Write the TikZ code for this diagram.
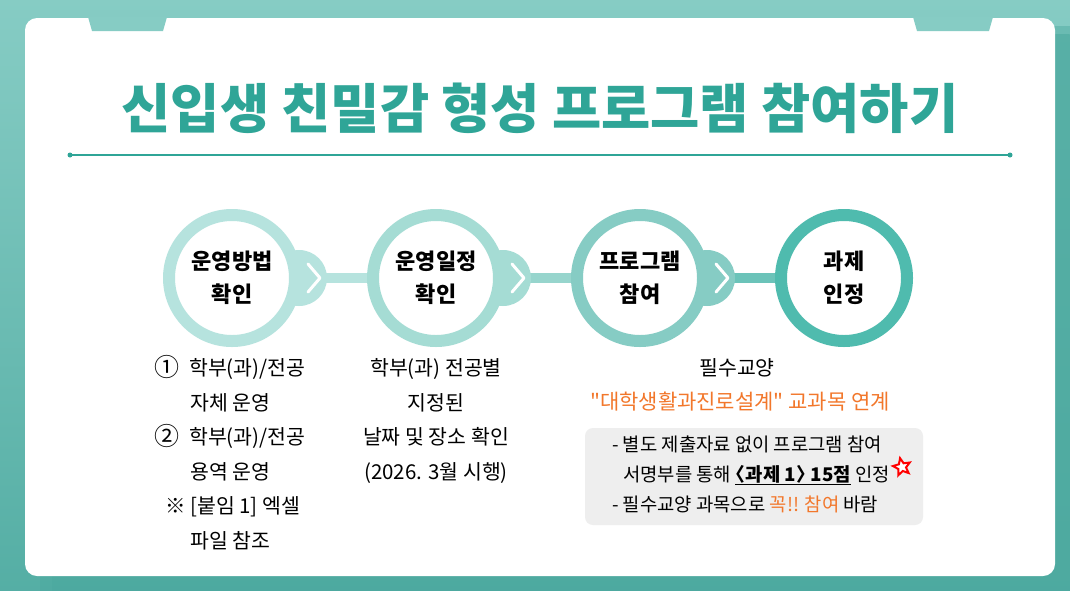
\documentclass[tikz,border=0pt]{standalone}
\usepackage{fontspec}
\setmainfont{Noto Sans CJK KR}
\newfontfamily\krplain{Noto Sans CJK KR}
\usetikzlibrary{calc,shapes.geometric}
\definecolor{tealbg}{HTML}{86CCC4}
\definecolor{tealdark}{HTML}{4CA99F}
\definecolor{titleteal}{HTML}{2FA597}
\definecolor{ringa}{HTML}{B6E3DE}
\definecolor{ringb}{HTML}{A5DCD4}
\definecolor{ringc}{HTML}{86CCC4}
\definecolor{ringd}{HTML}{4FBBAE}
\definecolor{orangetxt}{HTML}{F2772B}
\definecolor{notegray}{HTML}{EEEEEE}
\newcommand{\bignum}[1]{\makebox[35pt][l]{\fontsize{25}{20}\selectfont\raisebox{-1pt}{#1}}}
\newcommand{\dq}{{\krplain"}}
\tikzset{
  ring/.style={circle,draw=#1,line width=12pt,fill=white,minimum size=126pt,inner sep=0pt,
    align=center,font=\fontsize{22}{33}\selectfont\bfseries},
  bump/.style={circle,fill=#1,minimum size=56pt,inner sep=0pt},
  chev/.style={white,line width=3pt,line cap=round,line join=round},
  bar/.style={line width=10pt,draw=#1},
  txtline/.style={anchor=west,inner sep=0pt,text height=15pt,text depth=4pt,
    font=\fontsize{20.5}{22}\selectfont},
  boxline/.style={txtline,font=\fontsize{18.8}{20}\selectfont},
}
\begin{document}
\begin{tikzpicture}[x=1pt,y=-1pt]
\pgfmathsetmacro{\gap}{204}
\pgfmathsetmacro{\ly}{34.6}
\useasboundingbox (0,0) rectangle (1070,590);
\fill[top color=tealbg,bottom color=tealdark!85!tealbg] (0,0) rectangle (1070,590);
\fill[tealdark,opacity=.45,rounded corners=16pt] (40,26) rectangle (1085,610);
\fill[tealdark,opacity=.6,rounded corners=12pt] (52,34) rectangle (1080,605);
\fill[white,rounded corners=12pt] (25,18) rectangle (1055,576);
\fill[tealbg] (88,17)--(167,17)--(163,31)--(92,31)--cycle;
\fill[tealbg] (913,17)--(993,17)--(989,31)--(917,31)--cycle;

\node[titleteal,font=\fontsize{53.5}{54}\selectfont\bfseries] (title) at (540,108)
  {신입생 친밀감 형성 프로그램 참여하기};
\coordinate (rl) at (70,155);
\coordinate (rr) at (1010,155);
\draw[titleteal,line width=1.5pt] (rl)--(rr);
\fill[titleteal] (rl) circle (2.5pt) (rr) circle (2.5pt);

\foreach \n in {1,...,4}
  \coordinate (c\n) at (232+\gap*\n-\gap,278);
\draw[bar=ringa] (c1)--(c2);
\draw[bar=ringb!55!ringc] (c2)--(c3);
\draw[bar=ringc!50!ringd] (c3)--(c4);
\foreach \n/\col in {1/ringa,2/ringb,3/ringc}{
  \node[bump=\col] (b\n) at ($(c\n)+(67,0)$) {};
  \draw[chev] ($(b\n)+(9,-14)$)--($(b\n)+(21,0)$)--($(b\n)+(9,14)$);
}
\node[ring=ringa] (s1) at (c1) {운영방법\\확인};
\node[ring=ringb] (s2) at (c2) {운영일정\\확인};
\node[ring=ringc] (s3) at (c3) {프로그램\\참여};
\node[ring=ringd] (s4) at (c4) {과제\\인정};

\foreach \t [count=\i] in {{\bignum{①}학부(과)/전공},{\hspace*{36pt}자체 운영},
    {\bignum{②}학부(과)/전공},{\hspace*{36pt}용역 운영},
    {\hspace*{11pt}※ [붙임 1] 엑셀},{\hspace*{36pt}파일 참조}}
  \node[txtline] (ta\i) at (154,370+\ly*\i-\ly) {\t};
\foreach \t [count=\i] in {{학부(과) 전공별},{지정된},{날짜 및 장소 확인},{(2026. 3월 시행)}}
  \node[txtline,anchor=center] (tb\i) at (436,370+\ly*\i-\ly) {\t};

\node[txtline,anchor=center] (tc1) at (737,370) {필수교양};
\node[txtline,anchor=center,orangetxt,font=\fontsize{21}{22}\selectfont] (tc2) at (740,404)
  {\dq 대학생활과진로설계\dq{} 교과목 연계};
\node[fill=notegray,rounded corners=8pt,minimum width=338pt,minimum height=97pt] (note) at (754,476.5) {};
\node[boxline] (n1) at (612,446) {- 별도 제출자료 없이 프로그램 참여};
\node[boxline] (n2) at (623,476)
  {서명부를 통해 \underline{\textbf{\kern-.45em〈과제 1〉\kern-.45em\ 15점}} 인정};
\node[boxline] (n3) at (612,506) {- 필수교양 과목으로 \textcolor{orangetxt}{꼭!! 참여} 바람};
\node[star,star points=5,star point ratio=2.2,draw=red,fill=white,line width=2pt,
  minimum size=18pt,inner sep=0pt,rotate=12] (burst) at ($(n2.east)+(12,-9)$) {};
\end{tikzpicture}
\end{document}
